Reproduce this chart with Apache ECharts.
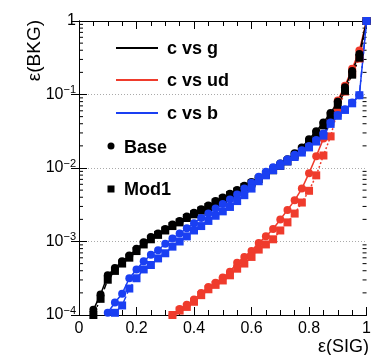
<!DOCTYPE html>
<html>
<head>
<meta charset="utf-8">
<script src="https://cdn.jsdelivr.net/npm/echarts@6/dist/echarts.min.js"></script>
<style>
  html, body { margin: 0; padding: 0; background: #fff; }
  #chart { width: 374px; height: 355px; }
</style>
</head>
<body>
<div id="chart"></div>
<script>
// signal efficiency points (x) for each curve
const xG = [0.05, 0.075, 0.1, 0.125, 0.15, 0.175, 0.2, 0.225, 0.25, 0.275, 0.3, 0.325, 0.35, 0.375, 0.4,
  0.425, 0.45, 0.475, 0.5, 0.525, 0.55, 0.575, 0.6, 0.625, 0.65, 0.675, 0.7, 0.725, 0.75, 0.775, 0.8,
  0.825, 0.85, 0.875, 0.9, 0.925, 0.95, 0.975, 1.0];
const xB = [0.1, 0.125, 0.15, 0.175, 0.2, 0.225, 0.25, 0.275, 0.3, 0.325, 0.35, 0.375, 0.4,
  0.425, 0.45, 0.475, 0.5, 0.525, 0.55, 0.575, 0.6, 0.625, 0.65, 0.675, 0.7, 0.725, 0.75, 0.775, 0.8,
  0.825, 0.85, 0.875, 0.9, 0.925, 0.95, 0.975, 1.0];
const xBMod = [0.125, 0.15, 0.175, 0.2, 0.225, 0.25, 0.275, 0.3, 0.325, 0.35, 0.375, 0.4,
  0.425, 0.45, 0.475, 0.5, 0.525, 0.55, 0.575, 0.6, 0.625, 0.65, 0.675, 0.7, 0.725, 0.75, 0.775, 0.8,
  0.825, 0.85, 0.875, 0.9, 0.925, 0.95, 0.975, 1.0];
const xUd = [0.325, 0.35, 0.375, 0.4, 0.425, 0.45, 0.475, 0.5, 0.525, 0.55, 0.575, 0.6, 0.625, 0.65,
  0.675, 0.7, 0.725, 0.75, 0.775, 0.8, 0.825, 0.85, 0.875, 0.9, 0.925, 0.95, 0.975, 1.0];

// log10 of background efficiency
const gBase = [-3.93, -3.72, -3.46, -3.36, -3.27, -3.19, -3.10, -3.01, -2.94, -2.89, -2.83, -2.77, -2.72, -2.66, -2.61,
  -2.56, -2.51, -2.45, -2.40, -2.35, -2.30, -2.24, -2.19, -2.13, -2.07, -2.00, -1.94, -1.88, -1.80, -1.72, -1.61,
  -1.50, -1.38, -1.25, -1.10, -0.90, -0.68, -0.45, 0];
const gMod = [-4.00, -3.78, -3.52, -3.40, -3.30, -3.22, -3.13, -3.04, -2.97, -2.91, -2.85, -2.79, -2.74, -2.68, -2.63,
  -2.58, -2.53, -2.47, -2.42, -2.37, -2.32, -2.26, -2.21, -2.15, -2.09, -2.03, -1.97, -1.91, -1.83, -1.75, -1.65,
  -1.54, -1.42, -1.29, -1.14, -0.95, -0.73, -0.50, 0];
const bBase = [-3.97, -3.83, -3.71, -3.50, -3.38, -3.27, -3.18, -3.12, -3.03, -2.96, -2.89, -2.82, -2.75,
  -2.68, -2.62, -2.55, -2.49, -2.43, -2.36, -2.28, -2.20, -2.12, -2.05, -1.99, -1.94, -1.88, -1.82, -1.76, -1.70,
  -1.62, -1.53, -1.38, -1.28, -1.20, -1.11, -1.01, 0];
const bMod = [-3.97, -3.87, -3.64, -3.50, -3.38, -3.32, -3.23, -3.16, -3.07, -3.00, -2.93, -2.85,
  -2.79, -2.72, -2.65, -2.59, -2.53, -2.45, -2.37, -2.28, -2.18, -2.10, -2.03, -1.97, -1.91, -1.85, -1.79, -1.72,
  -1.64, -1.56, -1.40, -1.29, -1.21, -1.12, -1.01, 0];
const udBase = [-4.00, -3.92, -3.86, -3.79, -3.70, -3.62, -3.56, -3.49, -3.41, -3.29, -3.21, -3.13, -3.02, -2.93,
  -2.83, -2.70, -2.57, -2.44, -2.28, -2.07, -1.84, -1.60, -1.35, -1.08, -0.88, -0.65, -0.40, 0];
const udMod = [-4.00, -3.94, -3.89, -3.82, -3.73, -3.65, -3.59, -3.53, -3.46, -3.37, -3.30, -3.21, -3.11, -3.04,
  -2.97, -2.85, -2.74, -2.62, -2.47, -2.31, -2.10, -1.83, -1.57, -1.21, -0.96, -0.71, -0.51, 0];

const BLACK = '#000000';
const RED = '#ef3b2c';
const BLUE = '#1a3ff2';
const FONT = '"Liberation Sans", Arial, sans-serif';

const pts = (xs, logs) => xs.map((x, i) => [x, Math.pow(10, logs[i])]);

const chart = echarts.init(document.getElementById('chart'));

// log minor ticks (2..9 per decade)
const minorVals = [];
for (let e = -4; e < 0; e++) {
  for (let k = 2; k <= 9; k++) minorVals.push([0, k * Math.pow(10, e)]);
}

function curve(name, xs, logs, color, symbol, dash) {
  return {
    name: name,
    type: 'line',
    data: pts(xs, logs),
    symbol: symbol,
    symbolSize: 8,
    showSymbol: true,
    itemStyle: { color: color },
    lineStyle: { color: color, width: 1.5, type: dash },
    animation: false,
    z: 3
  };
}

const xAxisBase = {
  type: 'value',
  min: 0,
  max: 1,
  interval: 0.2,
  axisLine: { show: true, lineStyle: { color: '#000', width: 1 } },
  axisTick: { show: true, inside: true, length: 8, lineStyle: { color: '#000' } },
  minorTick: { show: true, splitNumber: 4, length: 5, lineStyle: { color: '#000' } },
  splitLine: { show: false }
};
const yAxisBase = {
  type: 'log',
  logBase: 10,
  min: 1e-4,
  max: 1,
  axisLine: { show: true, lineStyle: { color: '#000', width: 1 } },
  axisTick: { show: true, inside: true, length: 8, lineStyle: { color: '#000' } },
  splitLine: { show: false }
};

const option = {
  animation: false,
  grid: { left: 79, right: 6, top: 21, bottom: 40 },
  xAxis: [
    Object.assign({}, xAxisBase, {
      position: 'bottom',
      axisLabel: {
        color: '#000', fontSize: 16, fontFamily: FONT, margin: 6,
        formatter: v => (v === 0 ? '0' : v === 1 ? '1' : v.toFixed(1))
      }
    }),
    Object.assign({}, xAxisBase, { position: 'top', axisLabel: { show: false } })
  ],
  yAxis: [
    Object.assign({}, yAxisBase, {
      position: 'left',
      splitLine: { show: true, lineStyle: { color: '#aaa', type: [1, 2], width: 1 } },
      axisLabel: {
        margin: 3,
        formatter: v => {
          const e = Math.round(Math.log10(v));
          return e === 0 ? '{b|1}' : '{b|10}{s|\u2212' + (-e) + '}';
        },
        rich: {
          b: { fontSize: 16, fontFamily: FONT, color: '#000', lineHeight: 20 },
          s: { fontSize: 11, fontFamily: FONT, color: '#000', lineHeight: 10, verticalAlign: 'top' }
        }
      }
    }),
    Object.assign({}, yAxisBase, { position: 'right', axisLabel: { show: false } })
  ],
  series: [
    {
      type: 'custom',
      silent: true,
      data: minorVals,
      renderItem: (params, api) => {
        const pl = api.coord([0, api.value(1)]);
        const pr = api.coord([1, api.value(1)]);
        return {
          type: 'group',
          children: [
            { type: 'line', shape: { x1: pl[0], y1: pl[1], x2: pl[0] + 4, y2: pl[1] }, style: { stroke: '#000', lineWidth: 1 } },
            { type: 'line', shape: { x1: pr[0] - 4, y1: pr[1], x2: pr[0], y2: pr[1] }, style: { stroke: '#000', lineWidth: 1 } }
          ]
        };
      },
      z: 1
    },
    curve('c vs ud Base', xUd, udBase, RED, 'circle', 'solid'),
    curve('c vs ud Mod1', xUd, udMod, RED, 'rect', [2, 2]),
    curve('c vs g Base', xG, gBase, BLACK, 'circle', 'solid'),
    curve('c vs g Mod1', xG, gMod, BLACK, 'rect', [6, 3, 2, 3]),
    curve('c vs b Base', xB, bBase, BLUE, 'circle', 'solid'),
    curve('c vs b Mod1', xBMod, bMod, BLUE, 'rect', [6, 3, 2, 3])
  ],
  graphic: [
    { type: 'line', shape: { x1: 116, y1: 48, x2: 158, y2: 48 }, style: { stroke: BLACK, lineWidth: 2 } },
    { type: 'text', x: 167, y: 49, style: { text: 'c vs g', font: 'bold 18px ' + FONT, fill: '#000', verticalAlign: 'middle' } },
    { type: 'line', shape: { x1: 116, y1: 80, x2: 158, y2: 80 }, style: { stroke: RED, lineWidth: 2 } },
    { type: 'text', x: 167, y: 81, style: { text: 'c vs ud', font: 'bold 18px ' + FONT, fill: '#000', verticalAlign: 'middle' } },
    { type: 'line', shape: { x1: 116, y1: 113, x2: 158, y2: 113 }, style: { stroke: BLUE, lineWidth: 2 } },
    { type: 'text', x: 167, y: 114, style: { text: 'c vs b', font: 'bold 18px ' + FONT, fill: '#000', verticalAlign: 'middle' } },
    { type: 'circle', shape: { cx: 111, cy: 146, r: 3.5 }, style: { fill: '#000' } },
    { type: 'text', x: 124, y: 148, style: { text: 'Base', font: 'bold 18px ' + FONT, fill: '#000', verticalAlign: 'middle' } },
    { type: 'rect', shape: { x: 107.5, y: 185.5, width: 7, height: 7 }, style: { fill: '#000' } },
    { type: 'text', x: 124, y: 190, style: { text: 'Mod1', font: 'bold 18px ' + FONT, fill: '#000', verticalAlign: 'middle' } },
    { type: 'text', x: 369, y: 347, style: { text: '\u03b5(SIG)', font: '18px ' + FONT, fill: '#000', align: 'right', verticalAlign: 'middle' } },
    { type: 'text', x: 35, y: 20, rotation: Math.PI / 2, style: { text: '\u03b5(BKG)', font: '19px ' + FONT, fill: '#000', align: 'right', verticalAlign: 'middle' } }
  ]
};

chart.setOption(option);
</script>
</body>
</html>
